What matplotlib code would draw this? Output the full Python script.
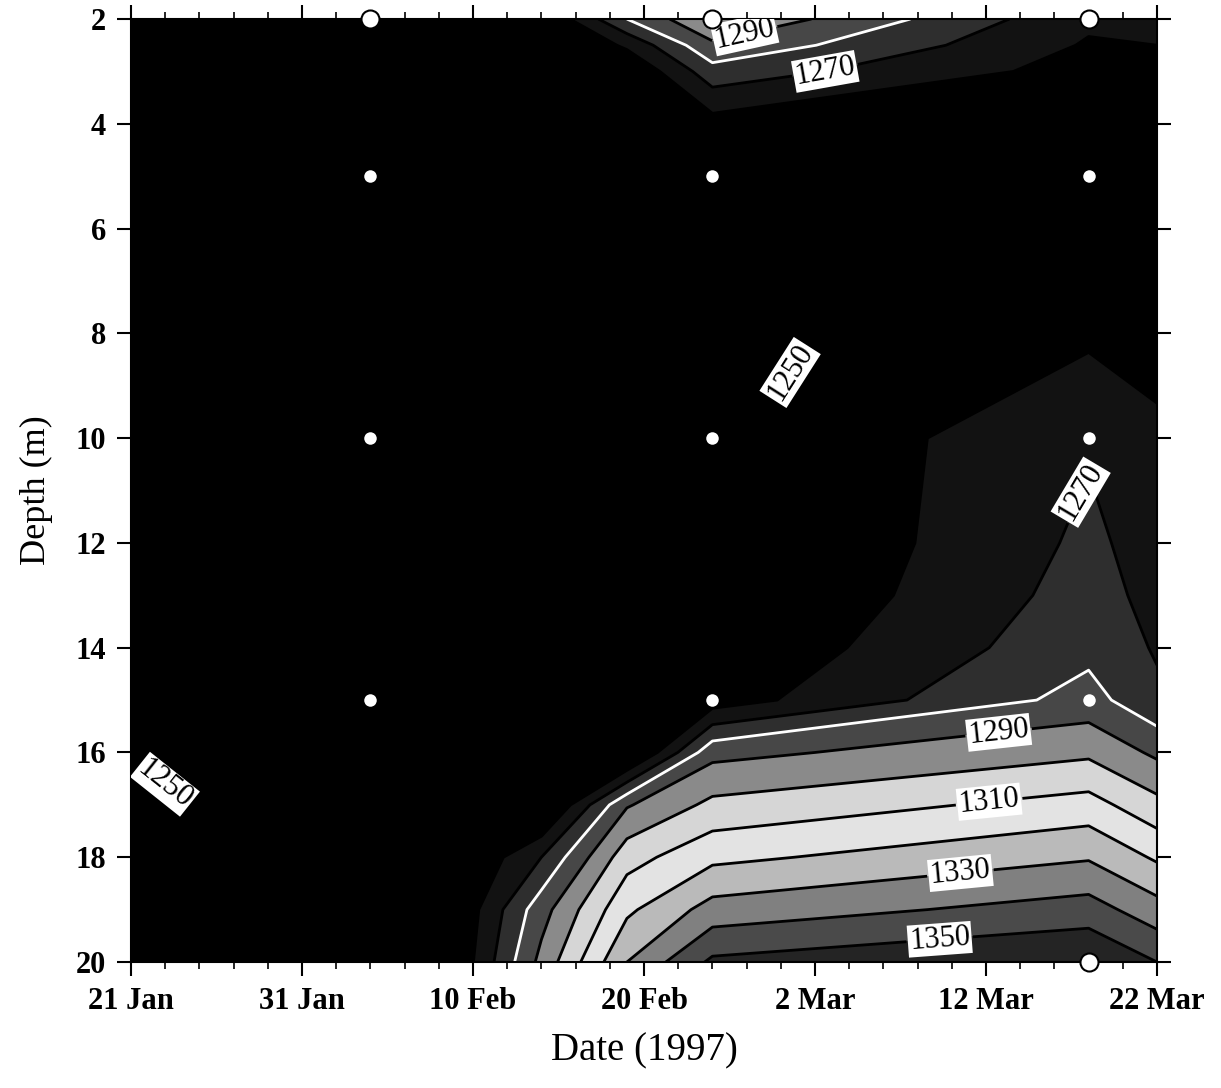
import numpy as np
import pandas as pd
import matplotlib
matplotlib.use("Agg")
import matplotlib.pyplot as plt
import matplotlib.dates as mdates

plt.rcParams['font.family'] = ['Liberation Serif', 'DejaVu Serif']

# profile dates (grid columns) and depths (grid rows)
grid_dates = ['1997-01-21', '1997-02-04', '1997-02-14', '1997-02-19',
              '1997-02-24', '1997-03-18', '1997-03-22']
depths = [2, 2.5, 3, 4, 5, 6, 8, 10, 12, 13, 14, 15, 16, 17, 18, 19, 20]

# values, one list per column
col_21jan = [1248, 1248, 1248, 1248, 1248, 1248, 1248, 1248, 1248, 1248, 1248, 1248, 1249.5, 1255, 1256, 1258, 1259]
col_04feb = [1235, 1235, 1236, 1238, 1240, 1241, 1242, 1242, 1243, 1243, 1243, 1242, 1240, 1235, 1225, 1215, 1210]
col_14feb = [1250, 1245, 1240, 1238, 1238, 1238, 1238, 1238, 1238, 1238, 1238, 1236, 1236, 1245, 1270, 1286, 1293]
col_19feb = [1280, 1262, 1250, 1245, 1243, 1243, 1243, 1243, 1243, 1243, 1242, 1240, 1245, 1289, 1306, 1318, 1330]
col_24feb = [1300, 1288, 1276, 1256, 1248, 1245, 1247, 1248, 1246, 1247, 1250.5, 1255, 1287, 1302.5, 1317.5, 1334, 1352]
col_18mar = [1262, 1259, 1256, 1252, 1249, 1248, 1258, 1269, 1272, 1274, 1277, 1284, 1298, 1314, 1329, 1344.5, 1360]
col_22mar = [1263, 1260, 1256, 1251, 1249, 1249, 1254, 1263, 1266, 1267, 1269, 1272, 1288, 1303, 1318.5, 1334, 1350]

# sampling points
sample_dates = ['1997-02-04', '1997-02-24', '1997-03-18']
inner_depths = [5, 10, 15]
edge_points = [('1997-02-04', 2), ('1997-02-24', 2), ('1997-03-18', 2), ('1997-03-18', 20)]

fill_levels = [1100, 1260, 1270, 1280, 1290, 1300, 1310, 1320, 1330, 1340, 1350, 1450]
fill_colors = ['#000000', '#121212', '#2e2e2e', '#474747', '#8a8a8a', '#d6d6d6',
               '#e3e3e3', '#bababa', '#808080', '#4a4a4a', '#242424']
plain_levels = [1260, 1280, 1300, 1320, 1340]
plain_colors = ['black', 'white', 'black', 'black', 'black']
label_levels = [1250, 1270, 1290, 1310, 1330, 1350]

x = mdates.date2num(pd.to_datetime(grid_dates).to_pydatetime())
Z = np.column_stack([col_21jan, col_04feb, col_14feb, col_19feb,
                     col_24feb, col_18mar, col_22mar])

fig = plt.figure(figsize=(12.21, 10.88), dpi=100)
ax = fig.add_axes([0.1073, 0.1158, 0.8403, 0.8667])

ax.set_xlim(x[0], x[-1])
ax.set_ylim(20, 2)

ax.contourf(x, depths, Z, levels=fill_levels, colors=fill_colors)
ax.contour(x, depths, Z, levels=plain_levels, colors=plain_colors, linewidths=2.0)
cs = ax.contour(x, depths, Z, levels=label_levels, colors='black', linewidths=2.0)

d0 = x[0]
label_pos = [(d0 + 35.9, 2.3), (d0 + 40.8, 3.4), (d0 + 38.8, 8.8), (d0 + 55.3, 11.0),
             (d0 + 2.0, 16.6), (d0 + 50.8, 15.8), (d0 + 50.2, 17.0),
             (d0 + 48.5, 18.3), (d0 + 47.3, 19.6)]
texts = ax.clabel(cs, manual=label_pos, fmt='%d', fontsize=22,
                  inline=True, inline_spacing=3, colors='black')
for t in texts:
    t.set_bbox(dict(facecolor='white', edgecolor='none', pad=1.0))

# sample points
sx = mdates.date2num(pd.to_datetime(sample_dates).to_pydatetime())
for xi in sx:
    ax.plot([xi] * len(inner_depths), inner_depths, 'o', color='white',
            markersize=9, markeredgewidth=0, zorder=5)
ex = mdates.date2num(pd.to_datetime([p[0] for p in edge_points]).to_pydatetime())
ey = [p[1] for p in edge_points]
ax.plot(ex, ey, 'o', markerfacecolor='white', markeredgecolor='black',
        markersize=13, markeredgewidth=1.5, clip_on=False, zorder=6)

major = pd.date_range('1997-01-21', '1997-03-22', freq='10D')
minor = pd.date_range('1997-01-21', '1997-03-22', freq='2D')
ax.set_xticks(mdates.date2num(major.to_pydatetime()))
ax.set_xticks(mdates.date2num(minor.to_pydatetime()), minor=True)
ax.set_xticklabels([f"{d.day} {d.strftime('%b')}" for d in major])
ax.set_yticks(np.arange(2, 21, 2))

ax.tick_params(axis='both', which='major', direction='out', length=10, width=1.5,
               labelsize=22, top=True, right=True, pad=8)
ax.tick_params(axis='x', which='minor', direction='out', length=5, width=1.2, top=True)
for lab in ax.get_xticklabels() + ax.get_yticklabels():
    lab.set_fontweight('bold')
for s in ax.spines.values():
    s.set_linewidth(1.5)

ax.set_xlabel('Date (1997)', fontsize=28, labelpad=12)
ax.set_ylabel('Depth (m)', fontsize=26, labelpad=16)

fig.savefig('out.png', dpi=100)
